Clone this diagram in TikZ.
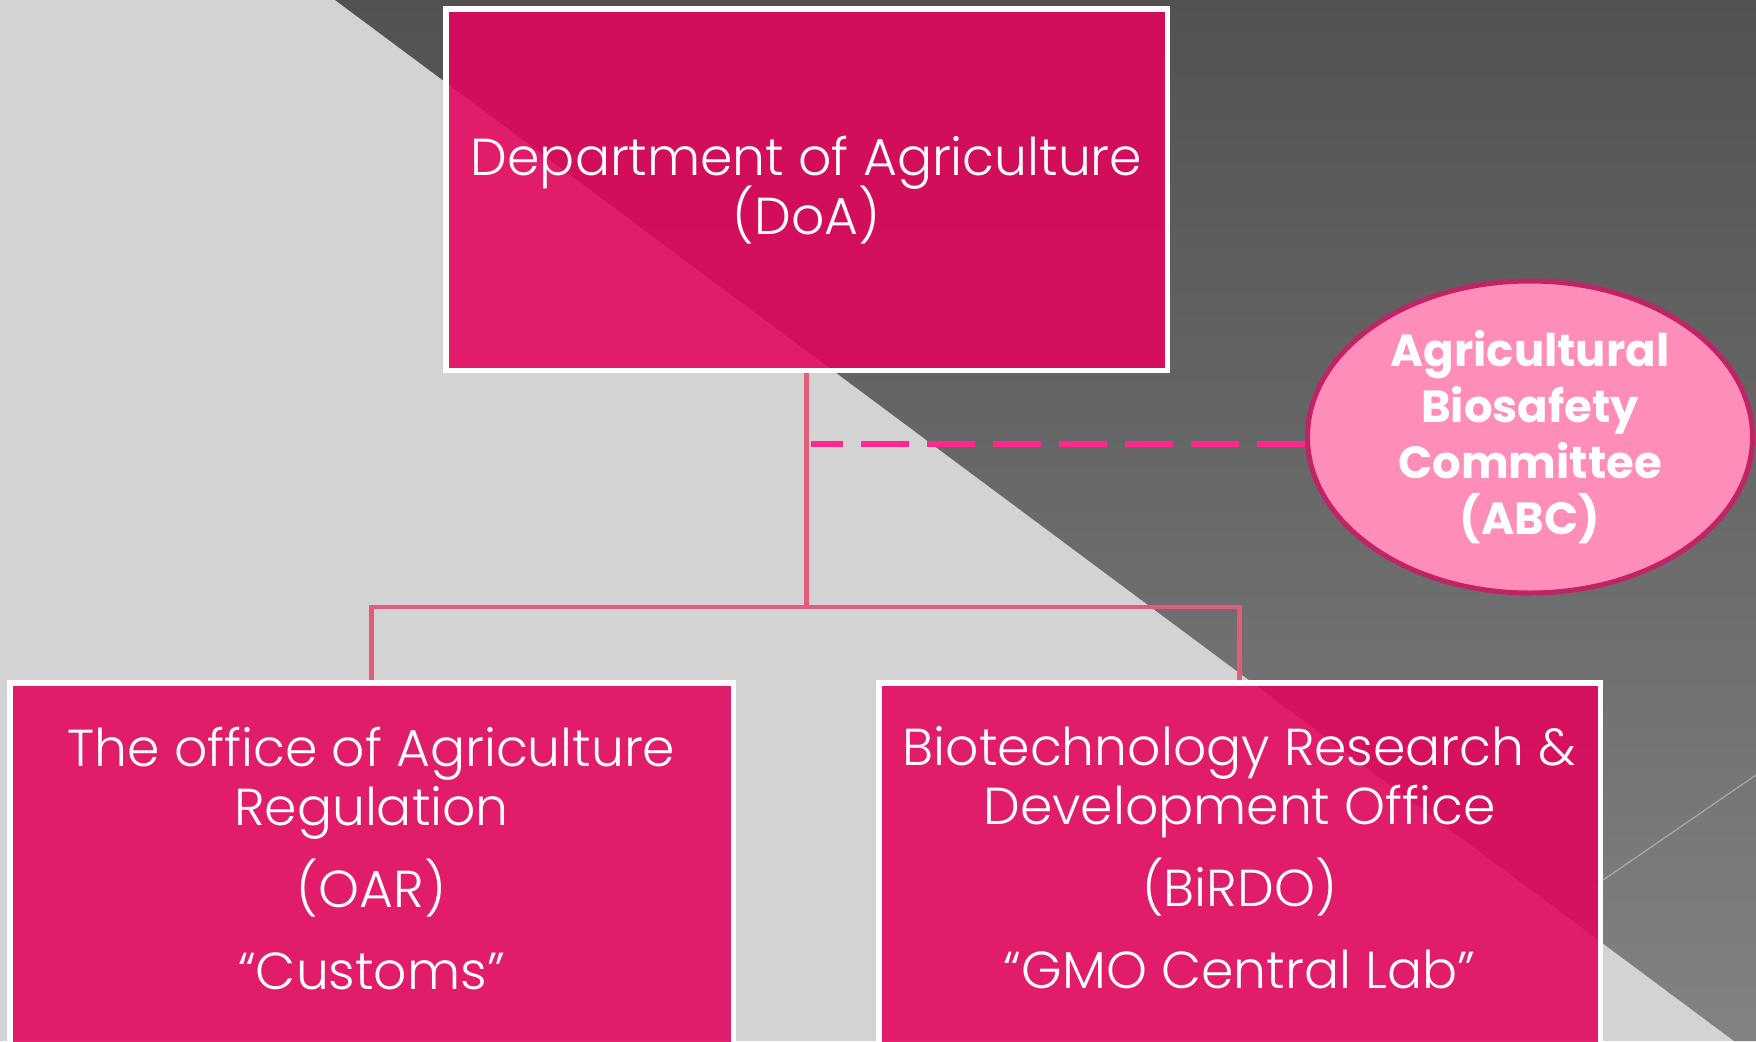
\documentclass[tikz,border=0pt]{standalone}
\usepackage{fontspec}
\setmainfont{Poppins}
\newfontfamily\boxfont{Poppins Light}
\newfontfamily\abcfont{Poppins}
\newcommand\mytightlines{\lineskiplimit=-50pt\relax\lineskip=0pt\relax}
\usetikzlibrary{shapes.geometric}
\pgfdeclarelayer{bgl}
\pgfdeclarelayer{linkl}
\pgfsetlayers{bgl,linkl,main}
\definecolor{bglight}{RGB}{211,211,211}
\definecolor{bgtop}{RGB}{82,82,82}
\definecolor{bgmid}{RGB}{100,100,100}
\definecolor{bgbot}{RGB}{130,130,130}
\definecolor{thinline}{RGB}{170,170,170}
\definecolor{boxpink}{RGB}{228,3,93}
\definecolor{linkpink}{RGB}{226,92,122}
\definecolor{dashpink}{RGB}{255,40,140}
\definecolor{abcfill}{RGB}{255,141,185}
\definecolor{abcedge}{RGB}{192,36,100}
\begin{document}
\begin{tikzpicture}[x=0.5pt,y=-0.5pt,
  orgbox/.style={rectangle, draw=white, line width=2.75pt, fill=boxpink, fill opacity=0.875, inner sep=0pt},
  boxtext/.style={text=white, align=center, inner sep=0pt, font={\boxfont\fontsize{26}{29.5}\selectfont\mytightlines}},
  conn/.style={draw=linkpink, line width=2.1pt},
  dashconn/.style={draw=dashpink, line width=2.8pt, dash pattern=on 24pt off 9pt, dash phase=8pt},
  abcstyle/.style={ellipse, draw=abcedge, line width=2.5pt, fill=abcfill, inner sep=0pt, text=white, align=center, font={\abcfont\bfseries\fontsize{22.5}{28}\selectfont\mytightlines}}
]
\useasboundingbox (0,0) rectangle (1756,1041);
\clip (0,0) rectangle (1756,1041);
\begin{pgfonlayer}{bgl}
  \fill[bglight] (0,0) rectangle (1756,1041);
  \shade[top color=bgtop, middle color=bgmid, bottom color=bgbot]
    (335,0) -- (1756,0) -- (1756,1041) -- (1734,1041) -- cycle;
  \draw[thinline, line width=0.6pt] (1590,889) -- (1756,775);
\end{pgfonlayer}

% boxes
\node[orgbox, minimum width=360.75pt, minimum height=180.75pt] (doa) at (806.5,189.5) {};
\node[orgbox, minimum width=361.75pt, minimum height=212.25pt] (oar) at (371.5,895) {};
\node[orgbox, minimum width=360.75pt, minimum height=212.25pt] (birdo) at (1239.5,895) {};

% texts
\node[boxtext] (doaT) at (806.5,190) {Department of Agriculture\\(DoA)};
\node[boxtext] (oarT) at (371.5,859) {The office of Agriculture\\Regulation\\[11.5pt](OAR)\\[11.5pt]“Customs”};
\node[boxtext] (birdoT) at (1239.5,858) {Biotechnology Research \&\\Development Office\\[11.5pt](BiRDO)\\[11.5pt]“GMO Central Lab”};

% committee
\node[abcstyle, minimum width=222.5pt, minimum height=156pt] (abc) at (1530,437) {Agricultural\\Biosafety\\Committee\\(ABC)};

% connectors
\coordinate (j) at (806.5,607);
\coordinate (dashL) at (811,444);
\begin{pgfonlayer}{linkl}
  \draw[conn] (doa.south) -- (j);
  \draw[conn] (oar.north) |- (j) -| (birdo.north);
  \draw[dashconn] (dashL) -- ([yshift=-3.5pt]abc.center);
\end{pgfonlayer}
\end{tikzpicture}
\end{document}
